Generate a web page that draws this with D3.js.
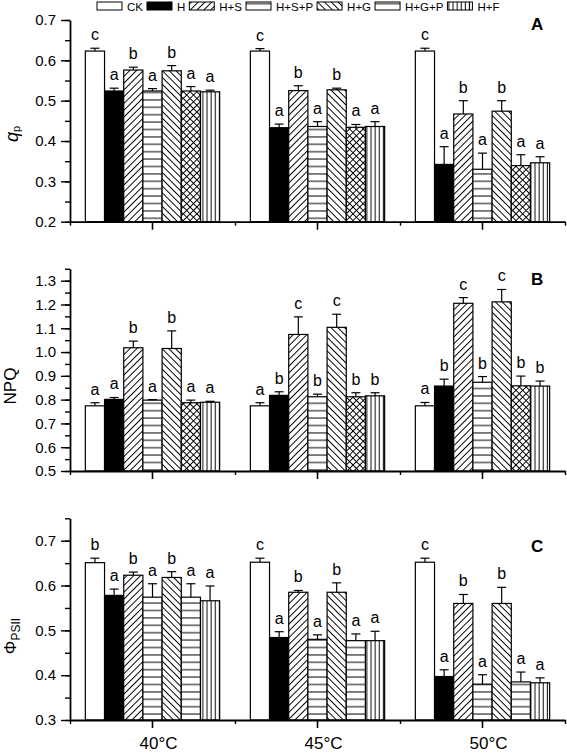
<!DOCTYPE html>
<html><head><meta charset="utf-8">
<script src="https://cdn.jsdelivr.net/npm/d3@7"></script>
<style>body{margin:0;background:#fff}svg{display:block;font-family:Arial,"Liberation Sans",sans-serif}</style>
</head><body><svg id="c" width="567" height="754"></svg>
<script>
// ---------- data ----------
const temps = ["40°C", "45°C", "50°C"];
const series = ["CK", "H", "H+S", "H+S+P", "H+G", "H+G+P", "H+F"];

const qpMean = [
  [0.623, 0.524, 0.576, 0.524, 0.574, 0.524, 0.522],
  [0.623, 0.433, 0.525, 0.436, 0.527, 0.434, 0.436],
  [0.623, 0.342, 0.467, 0.330, 0.474, 0.339, 0.346]];
const qpErr = [
  [0.007, 0.007, 0.007, 0.006, 0.013, 0.011, 0.004],
  [0.006, 0.009, 0.012, 0.012, 0.004, 0.007, 0.012],
  [0.007, 0.044, 0.033, 0.040, 0.026, 0.027, 0.015]];
const qpLetters = [
  ["c", "a", "b", "a", "b", "a", "a"],
  ["c", "a", "b", "a", "b", "a", "a"],
  ["c", "a", "b", "a", "b", "a", "a"]];

const npqMean = [
  [0.774, 0.801, 1.018, 0.798, 1.015, 0.787, 0.789],
  [0.774, 0.818, 1.074, 0.812, 1.104, 0.812, 0.816],
  [0.774, 0.857, 1.205, 0.873, 1.211, 0.858, 0.857]];
const npqErr = [
  [0.013, 0.008, 0.028, 0.002, 0.074, 0.011, 0.004],
  [0.013, 0.015, 0.074, 0.011, 0.055, 0.017, 0.013],
  [0.014, 0.029, 0.024, 0.024, 0.052, 0.041, 0.021]];
const npqLetters = [
  ["a", "a", "b", "a", "b", "a", "a"],
  ["a", "b", "c", "b", "c", "b", "b"],
  ["a", "b", "c", "b", "c", "b", "b"]];

const psiiMean = [
  [0.651, 0.578, 0.623, 0.574, 0.618, 0.574, 0.566],
  [0.652, 0.484, 0.585, 0.480, 0.585, 0.477, 0.477],
  [0.652, 0.397, 0.560, 0.380, 0.560, 0.385, 0.383]];
const psiiErr = [
  [0.010, 0.014, 0.007, 0.030, 0.013, 0.030, 0.033],
  [0.009, 0.013, 0.004, 0.010, 0.021, 0.015, 0.021],
  [0.009, 0.015, 0.020, 0.021, 0.036, 0.022, 0.011]];
const psiiLetters = [
  ["b", "a", "b", "a", "b", "a", "a"],
  ["c", "a", "b", "a", "b", "a", "a"],
  ["c", "a", "b", "a", "b", "a", "a"]];

const qpTicks = [0.2, 0.3, 0.4, 0.5, 0.6, 0.7];
const npqTicks = [0.5, 0.6, 0.7, 0.8, 0.9, 1.0, 1.1, 1.2, 1.3];
const psiiTicks = [0.3, 0.4, 0.5, 0.6, 0.7];

// ---------- styles / layout ----------
const svg = d3.select("#c");
const defs = svg.append("defs");
function pat(id, w, h, rot, lines) {
  const p = defs.append("pattern").attr("id", id).attr("patternUnits", "userSpaceOnUse")
    .attr("width", w).attr("height", h);
  if (rot) p.attr("patternTransform", `rotate(${rot})`);
  p.append("rect").attr("width", w).attr("height", h).attr("fill", "#fff");
  lines.forEach(l => p.append("line").attr("x1", l[0]).attr("y1", l[1]).attr("x2", l[2]).attr("y2", l[3])
    .attr("stroke", "#000").attr("stroke-width", 1));
}
const d = 4.8;
pat("fwd", d, d, 45, [[d/2, 0, d/2, d]]);
pat("bwd", d, d, -45, [[d/2, 0, d/2, d]]);
pat("cross", d, d, 45, [[d/2, 0, d/2, d], [0, d/2, d, d/2]]);
pat("hor", 10, 7.4, 0, [[0, 3.7, 10, 3.7]]);
pat("ver", 4.1, 10, 0, [[2, 0, 2, 10]]);

const fillsAB = ["#fff", "#000", "url(#fwd)", "url(#hor)", "url(#bwd)", "url(#cross)", "url(#ver)"];
const fillsC = ["#fff", "#000", "url(#fwd)", "url(#hor)", "url(#bwd)", "url(#hor)", "url(#ver)"];
const fillsLegend = ["#fff", "#000", "url(#fwd)", "url(#hor)", "url(#bwd)", "url(#hor)", "url(#ver)"];

const x0 = d3.scaleBand().domain(temps).range([70, 565]).padding(0);
const x1 = d3.scaleBand().domain(series).range([0, x0.bandwidth()]).paddingInner(0).paddingOuter(0.8);
const xBound = d3.scaleLinear().domain([0, temps.length]).range([70, 565]);

const panels = [
  {mean: qpMean, err: qpErr, letters: qpLetters, ticks: qpTicks, dom: [0.2, 0.7], rng: [221.7, 20], fills: fillsAB, tag: "A", tagY: 29.5},
  {mean: npqMean, err: npqErr, letters: npqLetters, ticks: npqTicks, dom: [0.5, 1.35], rng: [471, 268.8], fills: fillsAB, tag: "B", tagY: 284.5},
  {mean: psiiMean, err: psiiErr, letters: psiiLetters, ticks: psiiTicks, dom: [0.3, 0.75], rng: [720, 518.3], fills: fillsC, tag: "C", tagY: 552}
];

panels.forEach((P, pi) => {
  const y = d3.scaleLinear().domain(P.dom).range(P.rng);
  const g = svg.append("g");
  // bars
  temps.forEach((t, ti) => {
    series.forEach((s, si) => {
      const bx = x0(t) + x1(s), bw = x1.bandwidth();
      const m = P.mean[ti][si], e = P.err[ti][si];
      g.append("rect").attr("x", bx).attr("y", y(m)).attr("width", bw).attr("height", y(P.dom[0]) - y(m))
        .attr("fill", P.fills[si]).attr("stroke", "#000").attr("stroke-width", 1.2);
      const cx = bx + bw / 2;
      g.append("line").attr("x1", cx).attr("x2", cx).attr("y1", y(m)).attr("y2", y(m + e))
        .attr("stroke", "#000").attr("stroke-width", 1.2);
      g.append("line").attr("x1", cx - 4.5).attr("x2", cx + 4.5).attr("y1", y(m + e)).attr("y2", y(m + e))
        .attr("stroke", "#000").attr("stroke-width", 1.2);
      g.append("text").attr("x", cx).attr("y", y(m + e) - 8).attr("text-anchor", "middle")
        .attr("font-size", 16).text(P.letters[ti][si]);
    });
  });
  // left axis
  const minor = d3.range(P.dom[0], P.dom[1] + 1e-9, 0.05).map(v => +v.toFixed(2));
  const gm = g.append("g").attr("transform", "translate(70,0)")
    .call(d3.axisLeft(y).tickValues(minor).tickSize(5).tickSizeOuter(0).tickFormat(""));
  gm.select(".domain").attr("stroke-width", 1.8);
  gm.selectAll(".tick line").attr("stroke-width", 1.4);
  const gM = g.append("g").attr("transform", "translate(70,0)")
    .call(d3.axisLeft(y).tickValues(P.ticks).tickSize(9).tickPadding(5).tickFormat(d3.format(".1f")));
  gM.select(".domain").remove();
  gM.selectAll(".tick line").attr("stroke-width", 1.4);
  gM.selectAll(".tick text").attr("font-size", 15).attr("font-family", "Arial, 'Liberation Sans', sans-serif").attr("fill", "#000");
  // bottom axis
  const by = P.rng[0];
  const gb = g.append("g").attr("transform", `translate(0,${by})`)
    .call(d3.axisBottom(x0).tickSize(8).tickSizeOuter(0).tickFormat(""));
  gb.select(".domain").attr("stroke-width", 1.8);
  gb.selectAll(".tick line").attr("stroke-width", 1.6);
  g.append("g").attr("transform", `translate(0,${by})`)
    .call(d3.axisBottom(xBound).tickValues(d3.range(0, temps.length + 1)).tickSize(4).tickFormat(""))
    .call(a => { a.select(".domain").remove(); a.selectAll(".tick line").attr("stroke-width", 1.4); });
  // panel tag
  svg.append("text").attr("x", 531).attr("y", P.tagY).attr("font-size", 17).attr("font-weight", "bold").text(P.tag);
});

// category labels
temps.forEach(t => {
  svg.append("text").attr("x", x0(t) + x0.bandwidth() / 2 + 6).attr("y", 749)
    .attr("text-anchor", "middle").attr("font-size", 17).text(t);
});

// y labels
const l1 = svg.append("text").attr("transform", "translate(18,134) rotate(-90)").attr("text-anchor", "middle");
l1.append("tspan").attr("font-style", "italic").attr("font-size", 18).text("q");
l1.append("tspan").attr("font-size", 11).attr("dy", 2).text("p");
svg.append("text").attr("transform", "translate(16,386) rotate(-90)").attr("text-anchor", "middle")
  .attr("font-size", 17).text("NPQ");
const l3 = svg.append("text").attr("transform", "translate(16,636) rotate(-90)").attr("text-anchor", "middle");
l3.append("tspan").attr("font-size", 17).text("Φ");
l3.append("tspan").attr("font-size", 12).attr("dy", 4).text("PSII");

// legend
let lx = 97;
series.forEach((s, i) => {
  svg.append("rect").attr("x", lx).attr("y", 2).attr("width", 25).attr("height", 8)
    .attr("fill", fillsLegend[i]).attr("stroke", "#000").attr("stroke-width", 1);
  const tx = svg.append("text").attr("x", lx + 30).attr("y", 10.5).attr("font-size", 11.5).text(s);
  lx = lx + 30 + tx.node().getComputedTextLength() + 4;
});
</script></body></html>
